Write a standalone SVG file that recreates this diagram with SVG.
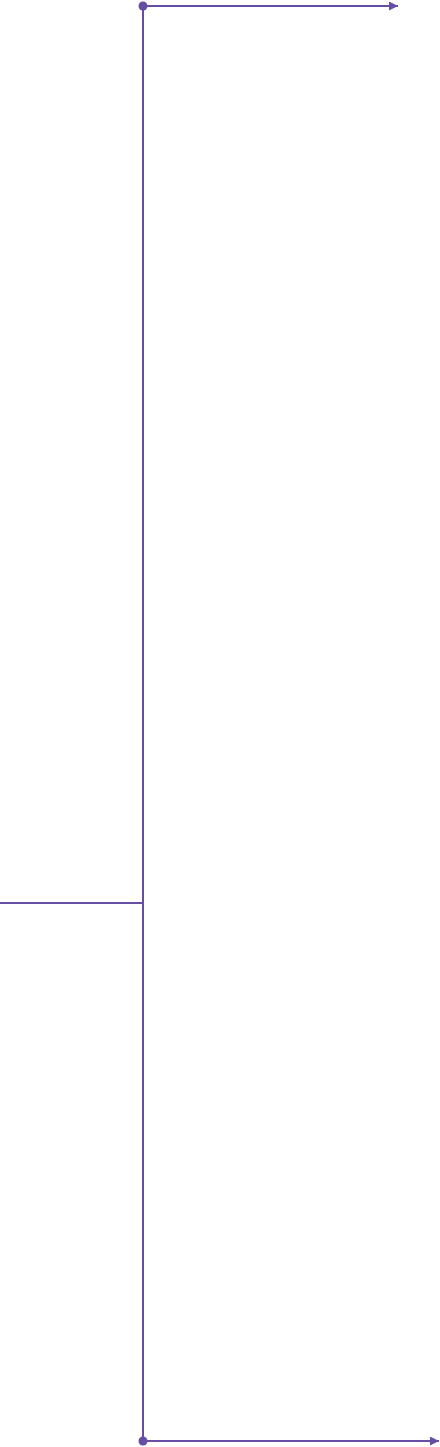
<svg xmlns="http://www.w3.org/2000/svg" width="440" height="1447" viewBox="0 0 440 1447">
<style>
.ln{stroke:#654ea3;stroke-width:2;fill:none}
.dot{fill:#654ea3}
</style>
<defs>
<marker id="arr" markerWidth="10" markerHeight="10" refX="9" refY="4.5" orient="auto" markerUnits="userSpaceOnUse">
<path d="M0,0 L9,4.5 L0,9 Z" fill="#654ea3"/>
</marker>
</defs>
<rect width="440" height="1447" fill="#ffffff"/>
<g id="connectors">
<line class="ln" x1="143" y1="6" x2="143" y2="1441"/>
<line class="ln" x1="143" y1="6" x2="398" y2="6" marker-end="url(#arr)"/>
<line class="ln" x1="143" y1="1441" x2="439" y2="1441" marker-end="url(#arr)"/>
<line class="ln" x1="0" y1="903" x2="143" y2="903"/>
</g>
<g id="start-top"><circle class="dot" cx="143" cy="6" r="4.5"/></g>
<g id="start-bottom"><circle class="dot" cx="143" cy="1441" r="4.5"/></g>
</svg>
